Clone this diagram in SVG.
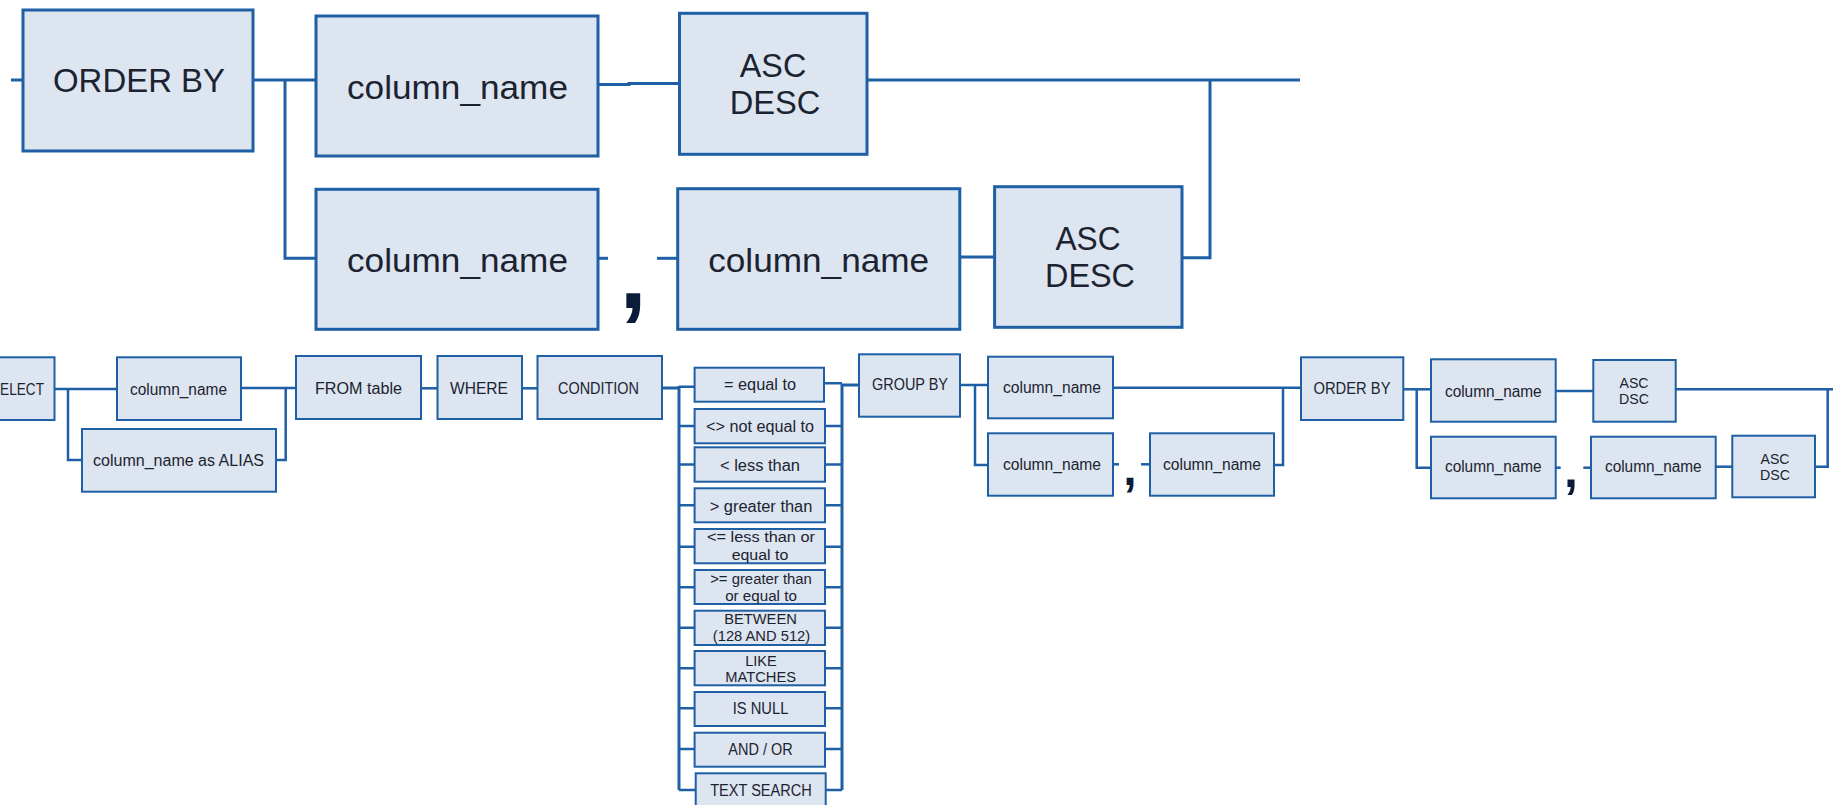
<svg xmlns="http://www.w3.org/2000/svg" width="1833" height="805" viewBox="0 0 1833 805">
  <style>
    .bg { fill: #ffffff; }
    .box { fill: #dde5f0; stroke: #1f5fa5; stroke-width: 3; }
    .sbox { fill: #dde5f0; stroke: #1f5fa5; stroke-width: 2; }
    .ln { fill: none; stroke: #1f5fa5; stroke-width: 3; }
    .sln { fill: none; stroke: #1f5fa5; stroke-width: 2.5; }
    text { font-family: "Liberation Sans", Arial, sans-serif; fill: #1c2330; text-anchor: middle; }
    .big { font-size: 33px; }
    .sm { font-size: 16px; }
    .xs { font-size: 14px; }
    .comma { font-weight: bold; fill: #0b1c3a; }
  </style>
  <rect class="bg" x="0" y="0" width="1833" height="805"/>

  <!-- connectors -->
  <g id="connectors">
    <!-- large ORDER BY diagram -->
    <path class="ln" d="M11 80 H23"/>
    <path class="ln" d="M253 80 H316"/>
    <path class="ln" d="M285 80 V258.3 H316"/>
    <path class="ln" d="M598 84.5 H629 V83.5 H679.5"/>
    <path class="ln" d="M598 258.3 H608"/>
    <path class="ln" d="M657 258.3 H677.7"/>
    <path class="ln" d="M959.8 257 H994.6"/>
    <path class="ln" d="M1182 257.7 H1210 V80"/>
    <path class="ln" d="M867 80 H1300"/>

    <!-- SELECT statement -->
    <path class="sln" d="M54.5 389 H117"/>
    <path class="sln" d="M68 389 V460 H82"/>
    <path class="sln" d="M241 388 H296"/>
    <path class="sln" d="M276 460 H285.7 V388"/>
    <path class="sln" d="M421 388.3 H437.5"/>
    <path class="sln" d="M522 388.3 H537.5"/>
    <path class="ln" d="M662 388 H679"/>

    <!-- condition buses -->
    <path class="ln" d="M679 386 V790"/>
    <path class="ln" d="M842 384 V790"/>
    <path class="sln" d="M679 386.7 H694.6 M679 426 H694.6 M679 464.5 H694.6 M679 505.3 H694.6 M679 546.7 H694.6 M679 587.3 H694.6 M679 627.7 H694.6 M679 668.3 H694.6 M679 708.3 H694.6 M679 749 H694.6 M679 790 H695.7"/>
    <path class="sln" d="M825 383.3 H842 M825 426 H842 M825 464.5 H842 M825 505.3 H842 M825 546.7 H842 M825 587.3 H842 M825 627.7 H842 M825 668.3 H842 M825 708.3 H842 M825 749 H842 M825.7 790 H842"/>
    <path class="ln" d="M842 385 H859"/>

    <!-- GROUP BY -->
    <path class="sln" d="M960 385 H988"/>
    <path class="sln" d="M975 385 V465 H988"/>
    <path class="sln" d="M1113 387.7 H1301"/>
    <path class="sln" d="M1274 465 H1283 V387.7"/>
    <path class="sln" d="M1113 464.3 H1119"/>
    <path class="sln" d="M1141 464.3 H1150"/>

    <!-- small ORDER BY -->
    <path class="sln" d="M1403 389.3 H1431"/>
    <path class="sln" d="M1416.7 389.3 V467.7 H1431"/>
    <path class="sln" d="M1555.7 391 H1593.3"/>
    <path class="sln" d="M1675.7 389.3 H1833"/>
    <path class="sln" d="M1815 466.7 H1827.7 V389.3"/>
    <path class="sln" d="M1555.7 467.7 H1560.7"/>
    <path class="sln" d="M1583.3 467.7 H1591"/>
    <path class="sln" d="M1715.7 466.7 H1732.3"/>
  </g>

  <!-- large ORDER BY diagram -->
  <g id="orderby-main">
    <rect class="box" x="23" y="10" width="230" height="141"/>
    <text class="big" x="139" y="92" font-size="32.5" textLength="172" lengthAdjust="spacingAndGlyphs">ORDER BY</text>
  </g>
  <g id="colname-main-1">
    <rect class="box" x="316" y="16" width="282" height="140"/>
    <text class="big" x="457.5" y="99" textLength="221" lengthAdjust="spacingAndGlyphs">column_name</text>
  </g>
  <g id="ascdesc-main-1">
    <rect class="box" x="679.5" y="13.3" width="187.5" height="141"/>
    <text class="big" x="773" y="77.3" font-size="32" textLength="66.5" lengthAdjust="spacingAndGlyphs">ASC</text>
    <text class="big" x="775" y="114" font-size="32" textLength="90.6" lengthAdjust="spacingAndGlyphs">DESC</text>
  </g>
  <g id="colname-main-2">
    <rect class="box" x="316" y="189.3" width="282" height="140"/>
    <text class="big" x="457.5" y="271.7" textLength="221" lengthAdjust="spacingAndGlyphs">column_name</text>
  </g>
  <g id="comma-main">
    <text class="comma" x="633" y="307.6" font-size="98">,</text>
  </g>
  <g id="colname-main-3">
    <rect class="box" x="677.7" y="188.7" width="282.1" height="140.6"/>
    <text class="big" x="818.7" y="271.7" textLength="221" lengthAdjust="spacingAndGlyphs">column_name</text>
  </g>
  <g id="ascdesc-main-2">
    <rect class="box" x="994.6" y="186.7" width="187.4" height="140.6"/>
    <text class="big" x="1088" y="250" font-size="32" textLength="65" lengthAdjust="spacingAndGlyphs">ASC</text>
    <text class="big" x="1090" y="286.7" font-size="32" textLength="90" lengthAdjust="spacingAndGlyphs">DESC</text>
  </g>

  <!-- SELECT statement -->
  <g id="select">
    <rect class="sbox" x="-10" y="357.3" width="64.5" height="62.7"/>
    <text x="44" y="395" font-size="17" style="text-anchor:end" textLength="53" lengthAdjust="spacingAndGlyphs">SELECT</text>
  </g>
  <g id="select-column">
    <rect class="sbox" x="117" y="357.3" width="124" height="62.7"/>
    <text class="sm" x="178.5" y="395" textLength="97" lengthAdjust="spacingAndGlyphs">column_name</text>
  </g>
  <g id="select-alias">
    <rect class="sbox" x="82" y="429" width="194" height="62.7"/>
    <text class="sm" x="178.5" y="466" textLength="171" lengthAdjust="spacingAndGlyphs">column_name as ALIAS</text>
  </g>
  <g id="from-table">
    <rect class="sbox" x="296" y="356" width="125" height="63"/>
    <text class="sm" x="358.5" y="394" textLength="87" lengthAdjust="spacingAndGlyphs">FROM table</text>
  </g>
  <g id="where">
    <rect class="sbox" x="437.5" y="356" width="84.5" height="63"/>
    <text class="sm" x="479" y="394" textLength="58" lengthAdjust="spacingAndGlyphs">WHERE</text>
  </g>
  <g id="condition">
    <rect class="sbox" x="537.5" y="356" width="124.5" height="63"/>
    <text class="sm" x="598.5" y="394" textLength="81" lengthAdjust="spacingAndGlyphs">CONDITION</text>
  </g>

  <!-- condition operators -->
  <g id="op-eq">
    <rect class="sbox" x="694.6" y="367.7" width="129.4" height="34"/>
    <text class="sm" x="760" y="390" textLength="72" lengthAdjust="spacingAndGlyphs">= equal to</text>
  </g>
  <g id="op-ne">
    <rect class="sbox" x="694.6" y="409" width="130.4" height="34.3"/>
    <text class="sm" x="760" y="431.7" textLength="108" lengthAdjust="spacingAndGlyphs">&lt;&gt; not equal to</text>
  </g>
  <g id="op-lt">
    <rect class="sbox" x="694.6" y="447.3" width="130.4" height="34.4"/>
    <text class="sm" x="760" y="470.7" textLength="80" lengthAdjust="spacingAndGlyphs">&lt; less than</text>
  </g>
  <g id="op-gt">
    <rect class="sbox" x="694.6" y="488.3" width="130.4" height="34"/>
    <text class="sm" x="761" y="511.7" textLength="102.7" lengthAdjust="spacingAndGlyphs">&gt; greater than</text>
  </g>
  <g id="op-le">
    <rect class="sbox" x="694.6" y="529" width="130.4" height="34.3"/>
    <text class="xs" x="761" y="542" textLength="108" lengthAdjust="spacingAndGlyphs">&lt;= less than or</text>
    <text class="xs" x="760" y="559.5" textLength="56.7" lengthAdjust="spacingAndGlyphs">equal to</text>
  </g>
  <g id="op-ge">
    <rect class="sbox" x="694.6" y="570" width="130.4" height="34"/>
    <text class="xs" x="761" y="584" textLength="101.7" lengthAdjust="spacingAndGlyphs">&gt;= greater than</text>
    <text class="xs" x="761" y="600.5" textLength="71.7" lengthAdjust="spacingAndGlyphs">or equal to</text>
  </g>
  <g id="op-between">
    <rect class="sbox" x="694.6" y="610.7" width="130.4" height="34.3"/>
    <text class="xs" x="760.5" y="624.3" textLength="72.7" lengthAdjust="spacingAndGlyphs">BETWEEN</text>
    <text class="xs" x="761.5" y="641" textLength="97.3" lengthAdjust="spacingAndGlyphs">(128 AND 512)</text>
  </g>
  <g id="op-like">
    <rect class="sbox" x="694.6" y="651" width="130.4" height="34.3"/>
    <text class="xs" x="761" y="665.7" textLength="31.7" lengthAdjust="spacingAndGlyphs">LIKE</text>
    <text class="xs" x="760.7" y="681.7" textLength="70.7" lengthAdjust="spacingAndGlyphs">MATCHES</text>
  </g>
  <g id="op-isnull">
    <rect class="sbox" x="694.6" y="692" width="130.4" height="34"/>
    <text class="sm" x="760.5" y="714" textLength="55.7" lengthAdjust="spacingAndGlyphs">IS NULL</text>
  </g>
  <g id="op-andor">
    <rect class="sbox" x="694.6" y="732.7" width="130.4" height="34"/>
    <text class="sm" x="760.5" y="755" textLength="64.3" lengthAdjust="spacingAndGlyphs">AND / OR</text>
  </g>
  <g id="op-textsearch">
    <rect class="sbox" x="695.7" y="773.3" width="130" height="36"/>
    <text class="sm" x="761" y="796" textLength="101.7" lengthAdjust="spacingAndGlyphs">TEXT SEARCH</text>
  </g>

  <!-- GROUP BY -->
  <g id="groupby">
    <rect class="sbox" x="859" y="354.3" width="101" height="62.4"/>
    <text class="sm" x="910" y="390" textLength="76" lengthAdjust="spacingAndGlyphs">GROUP BY</text>
  </g>
  <g id="groupby-column-1">
    <rect class="sbox" x="988" y="356.7" width="125" height="61.6"/>
    <text class="sm" x="1052" y="393.3" textLength="98" lengthAdjust="spacingAndGlyphs">column_name</text>
  </g>
  <g id="groupby-column-2">
    <rect class="sbox" x="988" y="433.3" width="125" height="62.4"/>
    <text class="sm" x="1052" y="470" textLength="98" lengthAdjust="spacingAndGlyphs">column_name</text>
  </g>
  <g id="groupby-comma">
    <text class="comma" x="1130" y="485" font-size="48">,</text>
  </g>
  <g id="groupby-column-3">
    <rect class="sbox" x="1150" y="433.3" width="124" height="62.4"/>
    <text class="sm" x="1212" y="470" textLength="98" lengthAdjust="spacingAndGlyphs">column_name</text>
  </g>

  <!-- ORDER BY -->
  <g id="orderby">
    <rect class="sbox" x="1301" y="357.3" width="102.3" height="62.7"/>
    <text class="sm" x="1352" y="394" textLength="77" lengthAdjust="spacingAndGlyphs">ORDER BY</text>
  </g>
  <g id="orderby-column-1">
    <rect class="sbox" x="1431" y="359.3" width="124.7" height="62.4"/>
    <text class="sm" x="1493.3" y="396.7" textLength="96.7" lengthAdjust="spacingAndGlyphs">column_name</text>
  </g>
  <g id="orderby-asc-1">
    <rect class="sbox" x="1593.3" y="360" width="82.4" height="61.7"/>
    <text x="1634" y="388.3" font-size="15" textLength="29" lengthAdjust="spacingAndGlyphs">ASC</text>
    <text x="1634" y="404.3" font-size="15" textLength="30" lengthAdjust="spacingAndGlyphs">DSC</text>
  </g>
  <g id="orderby-column-2">
    <rect class="sbox" x="1431" y="436.7" width="124.7" height="61.6"/>
    <text class="sm" x="1493.3" y="472.3" textLength="96.7" lengthAdjust="spacingAndGlyphs">column_name</text>
  </g>
  <g id="orderby-comma">
    <text class="comma" x="1571" y="487" font-size="50">,</text>
  </g>
  <g id="orderby-column-3">
    <rect class="sbox" x="1591" y="436.7" width="124.7" height="61.6"/>
    <text class="sm" x="1653.3" y="472.3" textLength="96.7" lengthAdjust="spacingAndGlyphs">column_name</text>
  </g>
  <g id="orderby-asc-2">
    <rect class="sbox" x="1732.3" y="435.7" width="82.7" height="61.6"/>
    <text x="1775" y="464" font-size="15" textLength="29" lengthAdjust="spacingAndGlyphs">ASC</text>
    <text x="1775" y="480" font-size="15" textLength="30" lengthAdjust="spacingAndGlyphs">DSC</text>
  </g>
</svg>
